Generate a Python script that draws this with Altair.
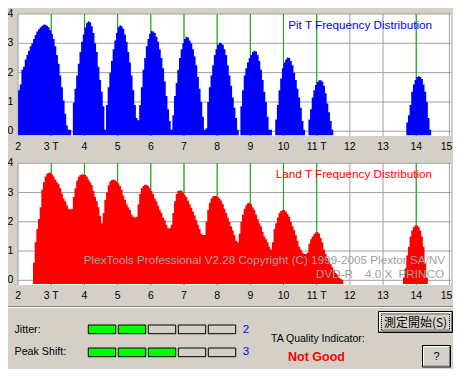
import altair as alt
import pandas as pd

# ---------------- colours ----------------
BG = "#D4D0C8"
GRID = "#A0A0A0"
GREEN_LINE = "#00B400"
BLUE = "#0000FF"
RED = "#FF0000"
LIT = "#00FF00"
TXT_GRAY = "#A0A0A0"
FONT = "Liberation Sans"

# ---------------- data ----------------
BIN = 0.05  # width of one histogram bin, in T

# Pit histogram, contiguous bins starting at 2.00 T
pit_start = 2.00
pit_counts = [
    1.40, 1.60, 2.10, 2.20, 2.45, 2.60, 2.75, 2.90, 3.00, 3.15, 3.28, 3.40, 3.48, 3.55, 3.60, 3.63, 3.63, 3.60, 3.55, 3.45,
    3.32, 3.15, 2.90, 2.60, 2.30, 1.90, 1.50, 1.05, 0.60, 0.20, 0.05, 0.05, 0.00, 0.97, 1.45, 1.90, 2.30, 2.70, 3.05, 3.30,
    3.55, 3.70, 3.75, 3.72, 3.58, 3.35, 3.00, 2.70, 2.20, 1.75, 1.35, 0.85, 0.05, 0.90, 1.50, 2.00, 2.40, 2.80, 3.10, 3.35,
    3.55, 3.62, 3.58, 3.50, 3.30, 3.05, 2.70, 2.35, 1.90, 1.40, 0.90, 0.45, 0.38, 0.90, 1.50, 2.10, 2.50, 2.90, 3.15, 3.33,
    3.42, 3.40, 3.35, 3.22, 3.05, 2.80, 2.50, 2.15, 1.70, 1.20, 0.75, 0.35, 0.05, 0.55, 1.20, 1.65, 2.10, 2.50, 2.80, 3.00,
    3.15, 3.22, 3.20, 3.10, 3.00, 2.80, 2.55, 2.25, 1.85, 1.45, 1.00, 0.50, 0.05, 0.10, 1.00, 1.50, 1.90, 2.25, 2.60, 2.80,
    2.95, 3.02, 3.00, 2.95, 2.80, 2.60, 2.25, 1.90, 1.55, 1.15, 0.80, 0.45, 0.05, 0.00, 0.85, 1.40, 1.90, 2.15, 2.35, 2.50,
    2.60, 2.70, 2.75, 2.72, 2.60, 2.40, 2.10, 1.75, 1.35, 1.00, 0.50, 0.05, 0.05, 0.00, 0.00, 0.40, 0.90, 1.40, 1.80, 2.15,
    2.35, 2.45, 2.52, 2.50, 2.40, 2.25, 2.00, 1.75, 1.45, 1.15, 0.80, 0.35, 0.05, 0.00, 0.00, 0.40, 0.75, 1.15, 1.40, 1.58,
    1.68, 1.74, 1.74, 1.70, 1.55, 1.30, 0.95, 0.65, 0.35, 0.05,
]
pit14_start = 13.70
pit14_counts = [0.30, 0.55, 0.90, 1.35, 1.60, 1.75, 1.85, 1.88, 1.85, 1.78, 1.60, 1.35, 1.00, 0.45, 0.05]

# Land histogram, contiguous bins starting at 2.45 T
land_start = 2.45
land_counts = [
    0.60, 1.30, 1.75, 2.10, 2.50, 3.10, 3.35, 3.55, 3.65, 3.68, 3.68,
    3.62, 3.55, 3.45, 3.35, 3.28, 3.15, 2.97, 2.80, 2.70, 2.57, 2.45, 2.42, 2.45, 2.85, 3.15, 3.40, 3.54, 3.60, 3.62, 3.62,
    3.60, 3.55, 3.45, 3.35, 3.25, 3.05, 2.85, 2.70, 2.50, 2.20, 1.95, 2.30, 2.75, 3.00, 3.25, 3.38, 3.43, 3.45, 3.42, 3.38,
    3.32, 3.22, 3.10, 2.90, 2.75, 2.60, 2.50, 2.40, 2.25, 2.17, 2.15, 2.17, 2.60, 2.95, 3.15, 3.22, 3.27, 3.27, 3.22, 3.15,
    3.05, 2.95, 2.80, 2.70, 2.55, 2.40, 2.30, 2.15, 2.05, 1.90, 1.78, 1.78, 1.90, 2.30, 2.70, 2.95, 3.05, 3.07, 3.07, 3.00,
    2.92, 2.85, 2.72, 2.60, 2.48, 2.35, 2.22, 2.05, 1.90, 1.75, 1.60, 1.55, 1.55, 2.00, 2.40, 2.65, 2.80, 2.87, 2.88, 2.88,
    2.85, 2.80, 2.72, 2.60, 2.45, 2.30, 2.15, 2.00, 1.85, 1.70, 1.55, 1.35, 1.30, 1.60, 2.00, 2.25, 2.45, 2.57, 2.63, 2.65,
    2.60, 2.50, 2.40, 2.25, 2.10, 1.95, 1.85, 1.65, 1.50, 1.40, 1.30, 1.15, 1.05, 1.30, 1.75, 1.95, 2.15, 2.30, 2.37, 2.40,
    2.40, 2.35, 2.27, 2.17, 2.00, 1.85, 1.72, 1.55, 1.35, 1.15, 1.05, 0.95, 0.90, 0.90, 0.95, 1.25, 1.40, 1.50, 1.58, 1.63,
    1.65, 1.60, 1.45, 1.30, 1.05, 0.90, 0.75, 0.65, 0.55, 0.45, 0.35, 0.25, 0.20, 0.10, 0.05, 0.02,
]
land14_start = 13.60
land14_counts = [0.10, 0.40, 0.85, 1.15, 1.50, 1.70, 1.82, 1.88, 1.88, 1.83, 1.70, 1.50, 1.15, 0.60, 0.10]

x_ticks = [2, 3, 4, 5, 6, 7, 8, 9, 10, 11, 12, 13, 14, 15]
x_tick_labels = ["2", "3 T", "4", "5", "6", "7", "8", "9", "10", "11 T", "12", "13", "14", "15"]
y_ticks = [0, 1, 2, 3, 4]
marker_T = [3, 4, 5, 6, 7, 8, 9, 10, 11, 14]

metrics = ["Jitter", "Peak Shift"]
metric_levels = [2, 3]
n_boxes = 5


# ---------------- tables ----------------
def step_segments(runs):
    """Turn runs of bins into step-area points; empty bins split the area."""
    rows, seg = [], 0
    for start, counts in runs:
        cur = []
        for i, c in enumerate(list(counts) + [0.0]):
            t = round(start + i * BIN, 3)
            if c > 0:
                cur.append((t, c))
            elif cur:
                cur.append((t, cur[-1][1]))  # closing edge of last bin
                rows += [(f"s{seg}", tt, vv) for tt, vv in cur]
                seg += 1
                cur = []
    return pd.DataFrame(rows, columns=["seg", "T", "v"])


pit_df = step_segments([(pit_start, pit_counts), (pit14_start, pit14_counts)])
land_df = step_segments([(land_start, land_counts), (land14_start, land14_counts)])

xt_df = pd.DataFrame({"T": x_ticks, "label": x_tick_labels})
xt_last = xt_df.iloc[[-1]]
xt_rest = xt_df.iloc[:-1]
yt_df = pd.DataFrame({"v": y_ticks, "label": [str(v) for v in y_ticks]})
mk_df = pd.DataFrame({"T": marker_T})
ind_df = pd.DataFrame(
    [{"metric": m, "idx": i, "level": lv} for m, lv in zip(metrics, metric_levels) for i in range(n_boxes)]
)
lvl_df = pd.DataFrame({"metric": metrics, "level": metric_levels})
one = pd.DataFrame({"k": [0]})


# ---------------- scales (layout) ----------------
def xs():
    return alt.Scale(domain=[2, 15], range=[10.1, 441.4], nice=False, zero=False)


def ys_top():
    return alt.Scale(domain=[0, 4], range=[123.3, 6.0], nice=False, zero=False)


def ys_bot():
    return alt.Scale(domain=[0, 4], range=[272.3, 155.3], nice=False, zero=False)


PANELS = [
    dict(ys=ys_top, top=6, bottom=128, base=127.3, xlab_y=139, df=pit_df, color=BLUE),
    dict(ys=ys_bot, top=155, bottom=277, base=276.1, xlab_y=288, df=land_df, color=RED),
]

layers = []
for p in PANELS:
    # white plot area
    layers.append(
        alt.Chart(one).mark_rect(color="white").encode(
            x=alt.value(10), x2=alt.value(443), y=alt.value(p["top"]), y2=alt.value(p["bottom"])
        )
    )
    # vertical grid
    layers.append(
        alt.Chart(xt_df).mark_rule(color=GRID, strokeWidth=1).encode(
            x=alt.X("T:Q", scale=xs(), axis=None), y=alt.value(p["top"]), y2=alt.value(p["bottom"])
        )
    )
    # horizontal grid
    layers.append(
        alt.Chart(yt_df).mark_rule(color=GRID, strokeWidth=1).encode(
            y=alt.Y("v:Q", scale=p["ys"](), axis=None), x=alt.value(10), x2=alt.value(443)
        )
    )
    # green T markers
    layers.append(
        alt.Chart(mk_df).mark_rule(color=GREEN_LINE, strokeWidth=1).encode(
            x=alt.X("T:Q", scale=xs(), axis=None), y=alt.value(p["top"]), y2=alt.value(p["bottom"])
        )
    )
    # histogram (step area, one area per run of non-empty bins)
    layers.append(
        alt.Chart(p["df"]).mark_area(color=p["color"], interpolate="step-after", opacity=1).encode(
            x=alt.X("T:Q", scale=xs(), axis=None),
            y=alt.Y("v:Q", scale=p["ys"](), axis=None, stack=None),
            y2=alt.value(p["base"]),
            detail="seg:N",
        )
    )
    # y tick labels
    layers.append(
        alt.Chart(yt_df).mark_text(font=FONT, fontSize=10.5, align="center", baseline="middle", color="black").encode(
            y=alt.Y("v:Q", scale=p["ys"](), axis=None), x=alt.value(2.5), text="label:N"
        )
    )
    # x tick labels
    layers.append(
        alt.Chart(xt_rest).mark_text(font=FONT, fontSize=10.5, align="center", baseline="middle", color="black").encode(
            x=alt.X("T:Q", scale=xs(), axis=None), y=alt.value(p["xlab_y"]), text="label:N"
        )
    )
    layers.append(
        alt.Chart(xt_last).mark_text(font=FONT, fontSize=10.5, align="right", baseline="middle", color="black", dx=3).encode(
            x=alt.X("T:Q", scale=xs(), axis=None), y=alt.value(p["xlab_y"]), text="label:N"
        )
    )


def label(text, x, y, color="black", size=11, align="left", weight="normal", font=FONT):
    return alt.Chart(one).mark_text(
        text=text, font=font, fontSize=size, align=align, baseline="middle", color=color, fontWeight=weight
    ).encode(x=alt.value(x), y=alt.value(y))


layers += [
    label("Pit T Frequency Distribution", 424, 17, BLUE, 11.7, "right"),
    label("Land T Frequency Distribution", 424, 166, RED, 11.7, "right"),
    label("PlexTools Professional V2.28 Copyright (C) 1999-2005 Plextor SA/NV", 437, 252, TXT_GRAY, 11.7, "right"),
    label("DVD-R", 308, 266, TXT_GRAY, 11.7),
    label("4.0 X", 357, 266, TXT_GRAY, 11.7),
    label("PRINCO", 436, 266, TXT_GRAY, 11.7, "right"),
]


# ---------------- indicator panel ----------------
def rule_h(y, x1, x2, color):
    return alt.Chart(one).mark_rule(color=color, strokeWidth=1).encode(
        x=alt.value(x1), x2=alt.value(x2), y=alt.value(y)
    )


def rule_v(x, y1, y2, color):
    return alt.Chart(one).mark_rule(color=color, strokeWidth=1).encode(
        x=alt.value(x), y=alt.value(y1), y2=alt.value(y2)
    )


layers += [
    rule_h(298.5, 0, 445, "#808080"),
    rule_h(299.5, 0, 445, "white"),
]

box_x = alt.Scale(type="band", domain=list(range(n_boxes)), range=[80.3, 227.7], paddingInner=0.0867, paddingOuter=0)
box_y = alt.Scale(type="band", domain=metrics, range=[317, 348.7], paddingInner=0.622, paddingOuter=0)
row_y = alt.Scale(type="point", domain=metrics, range=[321.5, 344.0], padding=0)

layers.append(
    alt.Chart(ind_df).mark_rect(stroke="black", strokeWidth=1).encode(
        x=alt.X("idx:O", scale=box_x, axis=None),
        y=alt.Y("metric:N", scale=box_y, axis=None),
        fill=alt.condition("datum.idx < datum.level", alt.value(LIT), alt.value(BG)),
    )
)
layers.append(
    alt.Chart(lvl_df).mark_text(font=FONT, fontSize=11.5, align="center", baseline="middle", color=BLUE).encode(
        y=alt.Y("metric:N", scale=row_y, axis=None), x=alt.value(238), text="level:Q"
    )
)
layers.append(
    alt.Chart(lvl_df).transform_calculate(lab="datum.metric + ':'").mark_text(
        font=FONT, fontSize=10.7, align="left", baseline="middle", color="black"
    ).encode(y=alt.Y("metric:N", scale=row_y, axis=None), x=alt.value(6.5), text="lab:N")
)

layers += [
    label("TA Quality Indicator:", 263, 331, "black", 10.5),
    label("Not Good", 280, 348.5, RED, 12.5, "left", "bold"),
]


# buttons
def button(x1, y1, x2, y2):
    return [
        alt.Chart(one).mark_rect(color=BG, stroke="black", strokeWidth=1).encode(
            x=alt.value(x1), x2=alt.value(x2), y=alt.value(y1), y2=alt.value(y2)
        ),
        rule_h(y1 + 1, x1 + 1, x2 - 1, "white"),
        rule_v(x1 + 1, y1 + 1, y2 - 1, "white"),
        rule_h(y2 - 1, x1 + 1, x2 - 1, "#808080"),
        rule_v(x2 - 1, y1 + 1, y2 - 1, "#808080"),
    ]


layers += button(370.5, 303.5, 444.5, 324.5)
layers.append(
    alt.Chart(one).mark_rect(fill=None, stroke="black", strokeWidth=1, strokeDash=[1, 1]).encode(
        x=alt.value(373.5), x2=alt.value(441.5), y=alt.value(306), y2=alt.value(322)
    )
)
layers.append(label("測定開始(S)", 407.5, 314.5, "black", 12, "center", font="Noto Sans CJK JP"))
layers += button(414.5, 337.5, 442.5, 359)
layers.append(label("?", 428.5, 348.5, "black", 11, "center"))

chart = (
    alt.layer(*layers)
    .resolve_scale(x="independent", y="independent")
    .properties(width=445, height=361, autosize=alt.AutoSizeParams(type="none"), padding=0, background=BG)
    .configure_view(stroke=None)
)

chart.save("out.html", embed_options={"renderer": "svg", "actions": False})
